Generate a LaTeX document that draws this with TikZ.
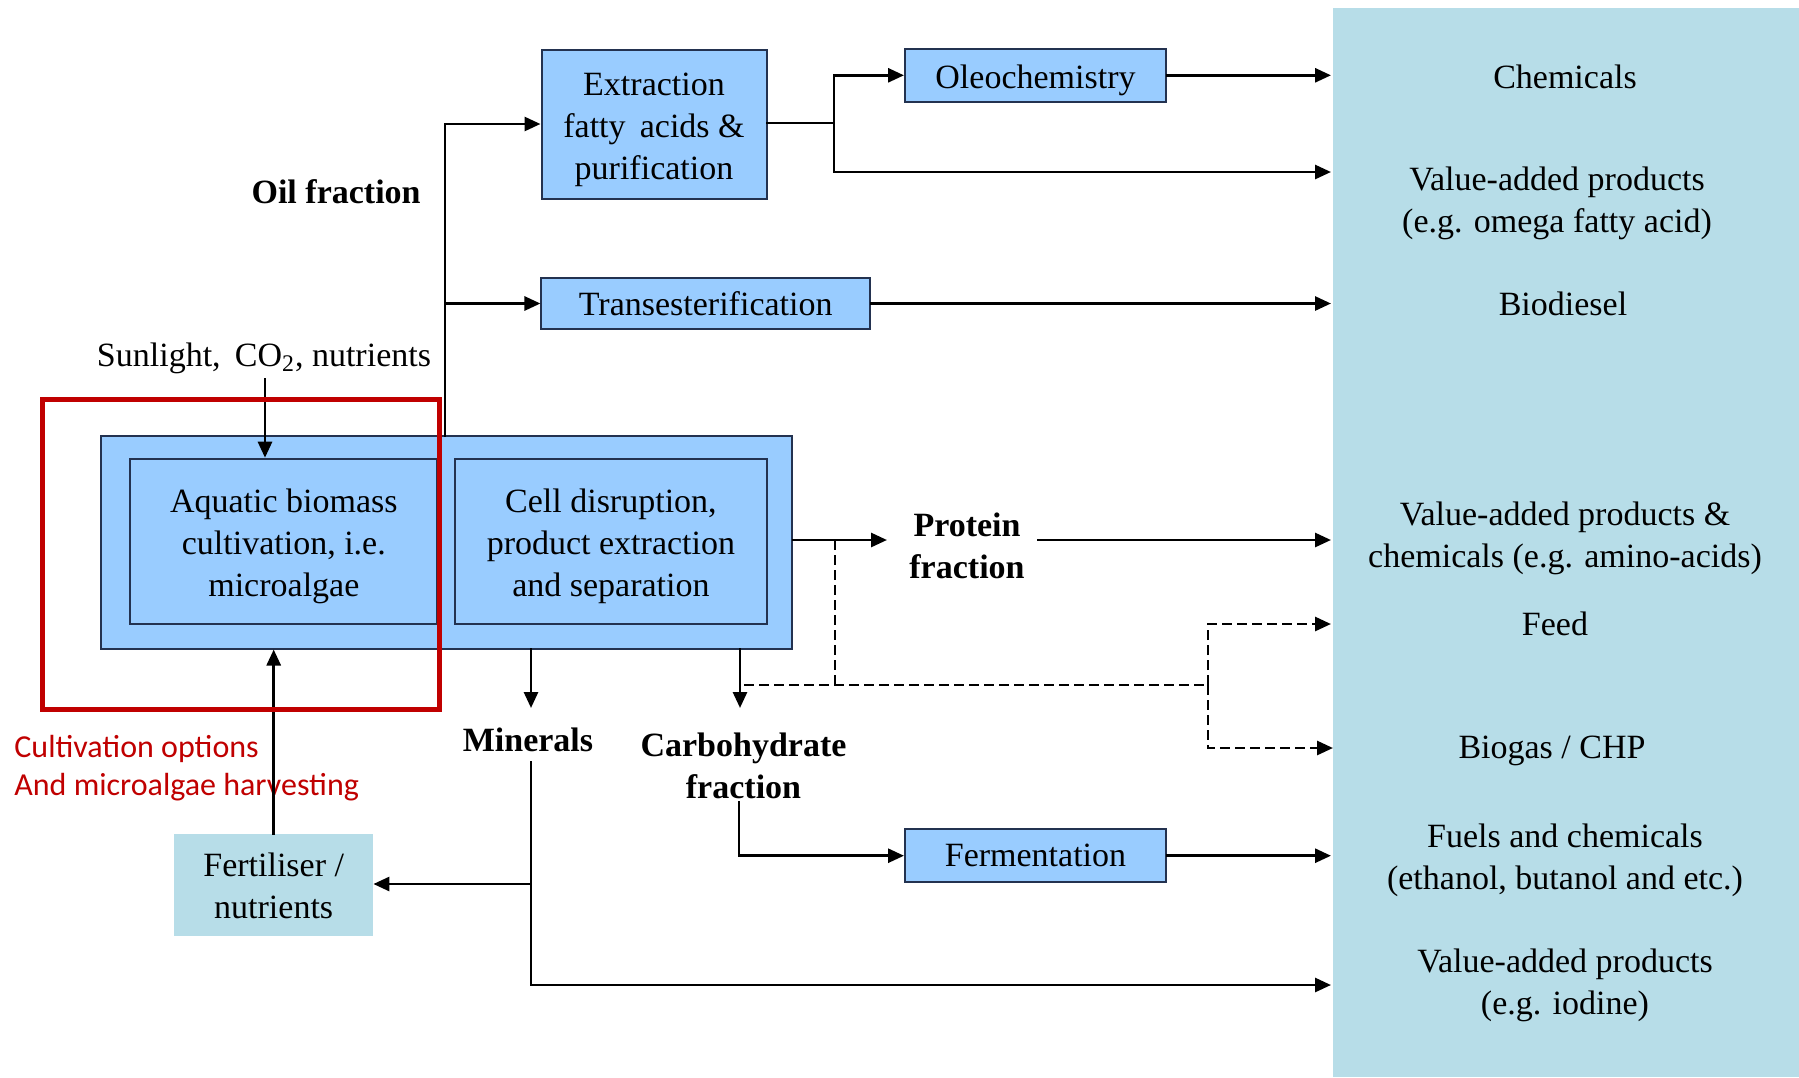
\documentclass[tikz,border=0pt]{standalone}
\usepackage{fontspec}
\setmainfont{Liberation Serif}
\newfontfamily\notefont{Carlito}
\usetikzlibrary{arrows.meta}

\definecolor{boxblue}{RGB}{153,204,255}
\definecolor{panelblue}{RGB}{183,221,232}
\definecolor{boxline}{RGB}{35,50,80}
\definecolor{markred}{RGB}{192,0,0}
\newcommand\txtsize{\fontsize{17}{21}\selectfont}

\begin{document}
\begin{tikzpicture}[x=0.5pt,y=-0.5pt,
  box/.style={draw=boxline, line width=1pt, fill=boxblue, inner sep=0pt},
  lbl/.style={inner sep=0pt, align=center, font=\txtsize},
  conn/.style={line width=1.4pt, line cap=rect},
  arr/.style={conn, -{Triangle[length=8pt,width=7pt]}},
  darr/.style={arr, line cap=butt, dash pattern=on 5pt off 2.5pt},
  dline/.style={line width=1.4pt, dash pattern=on 5pt off 2.5pt}]

\useasboundingbox (0,0) rectangle (1799,1077);

% output panel
\node[fill=panelblue, inner sep=0pt, minimum width=233pt, minimum height=534.5pt]
  (panel) at (1566,542.5) {};

% process boxes
\node[box, minimum width=345.5pt, minimum height=106.25pt] (outer) at (446.5,542.25) {};
\node[box, minimum width=153.5pt, minimum height=82.8pt] (inL) at (283.85,541.5) {};
\node[box, minimum width=155.9pt, minimum height=82.8pt] (inR) at (610.9,541.5) {};
\node[box, minimum width=112.5pt, minimum height=74.5pt] (extract) at (654,124) {};
\node[box, minimum width=130.5pt, minimum height=26.25pt] (oleo) at (1035.5,75.3) {};
\node[box, minimum width=164.25pt, minimum height=25.85pt] (trans) at (705.7,303.5) {};
\node[box, minimum width=130.5pt, minimum height=26.25pt] (ferm) at (1035.5,855.7) {};
\node[fill=panelblue, inner sep=0pt, minimum width=99.3pt, minimum height=51pt]
  (fert) at (273.7,885) {};

% box texts
\node[lbl] (inLT) at (283.85,546) {Aquatic biomass\\cultivation, i.e.\\microalgae};
\node[lbl] (inRT) at (610.9,546) {Cell disruption,\\product extraction\\and separation};
\node[lbl] (extractT) at (654,129.5) {Extraction\\fatty\, acids \&\\purification};
\node[lbl] (oleoT) at (1035.5,80) {Oleochemistry};
\node[lbl] (transT) at (trans) {Transesterification};
\node[lbl] (fermT) at (ferm) {Fermentation};
\node[lbl] (fertT) at (273.7,886) {Fertiliser /\\nutrients};

% labels
\node[lbl, anchor=east] (oil) at (421,192) {\bfseries Oil fraction};
\node[lbl] (sun) at (264,358) {Sunlight,\, CO\textsubscript{2}, nutrients};
\node[lbl] (prot) at (967,546) {\bfseries Protein\\\bfseries fraction};
\node[lbl] (mins) at (528,740) {\bfseries Minerals};
\node[lbl] (carb) at (743.5,766) {\bfseries Carbohydrate\\\bfseries fraction};
\node[lbl, anchor=west, align=left, font=\notefont\fontsize{16}{19}\selectfont,
  text=markred] (note) at (14,768) {Cultivation options\\And microalgae harvesting};

% products
\node[lbl] (p1) at (1565,77) {Chemicals};
\node[lbl] (p2) at (1557,203) {Value-added products\\(e.g. omega fatty acid)};
\node[lbl] (p3) at (1563,304) {Biodiesel};
\node[lbl] (p4) at (1565,538) {Value-added products \&\\chemicals (e.g. amino-acids)};
\node[lbl] (p5) at (1555,624) {Feed};
\node[lbl] (p6) at (1552,751) {Biogas / CHP};
\node[lbl] (p7) at (1565,860) {Fuels and chemicals\\(ethanol, butanol and etc.)};
\node[lbl] (p8) at (1565,985.5) {Value-added products\\(e.g. iodine)};

% junction and end points
\coordinate (oilx) at (445,436);
\coordinate (ej) at (834,123);
\coordinate (tipx) at (1331,0);
\coordinate (vatip) at (1331,172);
\coordinate (sunA) at (265,379);
\coordinate (ptip) at (887,540);
\coordinate (pstart) at (1038,540);
\coordinate (pend) at (1331,540);
\coordinate (dj) at (835,540);
\coordinate (dA) at (835,685);
\coordinate (dL) at (744,685);
\coordinate (dB) at (1208,685);
\coordinate (feedtip) at (1331,624);
\coordinate (biotip) at (1333,748);
\coordinate (minx) at (531,0);
\coordinate (carbx) at (740,0);
\coordinate (minA) at (531,708);
\coordinate (carbA) at (740,708);
\coordinate (minB) at (531,762);
\coordinate (minJ) at (531,884);
\coordinate (minC) at (531,985);
\coordinate (iodtip) at (1331,985);
\coordinate (carbB) at (739,802);

% oil fraction branch
\draw[arr] (oilx) |- (extract.west);
\draw[arr] (oilx |- trans.west) -- (trans.west);
\draw[conn] (extract.east |- ej) -- (ej);
\draw[arr] (ej) |- (oleo.west);
\draw[arr] (ej) |- (vatip);
\draw[arr] (oleo.east) -- (oleo.east -| tipx);
\draw[arr] (trans.east) -- (trans.east -| tipx);

% inputs to cultivation
\draw[arr] (sunA) -- (sunA |- inL.north);
\draw[arr] (fert.north) -- (fert.north |- outer.south);

% protein fraction
\draw[arr] (outer.east |- ptip) -- (ptip);
\draw[arr] (pstart) -- (pend);

% residue to feed and biogas
\draw[dline] (dj) -- (dA);
\draw[dline] (dL) -- (dB);
\draw[darr] (dB) |- (feedtip);
\draw[darr] (dB) |- (biotip);

% minerals and carbohydrates
\draw[arr] (outer.south -| minx) -- (minA);
\draw[arr] (outer.south -| carbx) -- (carbA);
\draw[conn] (minB) -- (minC);
\draw[arr] (minC) -- (iodtip);
\draw[arr] (minJ) -- (fert.east |- minJ);
\draw[arr] (carbB) |- (ferm.west);
\draw[arr] (ferm.east) -- (ferm.east -| tipx);

% highlighted cultivation stage
\draw[markred, line width=2.5pt] (42.5,399) rectangle (439.4,709);

\end{tikzpicture}
\end{document}
